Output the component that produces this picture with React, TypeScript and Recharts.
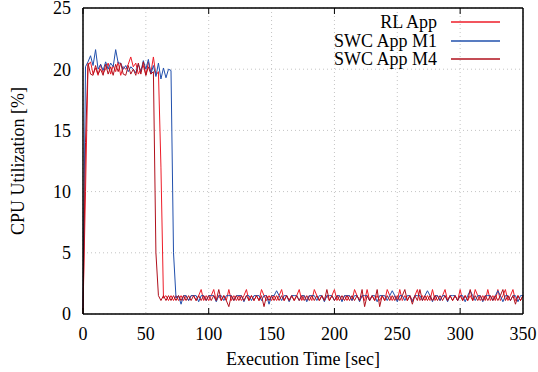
import React from "react";
import { CartesianGrid, Legend, Line, LineChart, XAxis, YAxis } from "recharts";

const FONT = '"Liberation Serif", "Times New Roman", serif';
const SAMPLE_STEP = 2; // seconds between samples

// CPU utilization [%], one sample every 2 s from t = 0 to 350
const rlApp = [
  0.3, 10.0, 20.3, 20.6, 19.6, 20.1, 19.5, 20.4, 19.7, 20.0,
  20.5, 19.6, 20.3, 19.8, 20.6, 19.5, 20.2, 20.0, 20.4, 21.0,
  20.2, 20.5, 19.6, 20.0, 20.3, 19.5, 20.6, 19.7, 21.0, 19.5,
  19.8, 12.0, 1.3, 1.5, 1.1, 1.5, 1.1, 1.5, 1.1, 1.5,
  1.1, 1.5, 1.1, 1.5, 1.5, 1.1, 1.5, 2.0, 1.1, 1.5,
  1.1, 1.5, 2.0, 1.1, 1.5, 1.1, 1.5, 1.1, 2.0, 1.1,
  1.5, 1.1, 1.5, 1.1, 1.5, 2.0, 1.1, 1.5, 1.1, 1.5,
  1.1, 2.0, 1.5, 1.1, 1.5, 1.1, 1.5, 1.1, 1.5, 2.0,
  1.1, 1.5, 1.1, 1.5, 1.1, 1.5, 2.0, 1.1, 1.5, 1.1,
  1.5, 1.1, 2.0, 1.5, 1.1, 1.5, 1.1, 1.5, 1.1, 1.5,
  2.0, 1.1, 1.5, 1.1, 1.5, 1.1, 1.5, 1.1, 2.0, 1.5,
  1.1, 1.5, 1.1, 2.0, 1.1, 1.5, 1.1, 1.5, 1.1, 1.5,
  1.1, 2.0, 1.5, 1.1, 1.5, 1.1, 2.0, 1.1, 1.5, 1.1,
  1.5, 1.1, 1.5, 2.0, 1.1, 1.5, 1.1, 1.5, 1.1, 2.0,
  1.1, 1.5, 1.1, 1.5, 2.0, 1.1, 1.5, 1.1, 1.5, 1.1,
  2.0, 1.1, 1.5, 1.1, 1.5, 1.1, 2.0, 1.5, 1.1, 1.5,
  1.1, 2.0, 1.1, 1.5, 1.1, 2.0, 1.1, 1.5, 2.0, 1.1,
  1.5, 2.0, 1.1, 1.5, 1.1, 1.5,
];

const swcM1 = [
  0.5, 20.2, 20.6, 21.1, 20.3, 21.6, 20.0, 20.4, 19.9, 20.6,
  20.0, 20.5, 20.2, 21.6, 20.5, 20.5, 20.0, 20.3, 19.8, 20.2,
  20.0, 19.7, 20.4, 19.8, 20.7, 20.0, 20.8, 19.6, 20.3, 19.4,
  20.5, 19.2, 20.1, 19.3, 20.0, 19.9, 5.0, 1.3, 1.5, 0.8,
  1.5, 1.5, 1.1, 1.5, 1.5, 1.5, 1.0, 1.5, 1.5, 1.1,
  1.5, 1.5, 1.5, 1.0, 1.5, 1.5, 1.1, 1.5, 1.5, 1.5,
  1.1, 1.5, 1.5, 1.5, 1.0, 1.5, 1.5, 1.1, 1.5, 1.5,
  1.5, 1.1, 1.5, 1.5, 0.8, 1.5, 1.5, 1.9, 1.5, 1.1,
  1.5, 1.5, 1.0, 1.5, 1.5, 1.5, 1.1, 1.5, 1.5, 1.0,
  1.5, 1.5, 1.5, 1.1, 1.5, 1.5, 1.0, 1.5, 1.5, 1.5,
  1.1, 1.5, 1.5, 1.0, 1.5, 1.5, 1.5, 1.1, 1.5, 1.5,
  1.0, 1.5, 1.5, 1.5, 1.1, 1.5, 1.5, 1.0, 1.5, 1.5,
  1.5, 1.1, 1.5, 1.9, 1.5, 1.0, 1.5, 1.5, 1.1, 1.5,
  1.5, 1.0, 1.5, 1.5, 1.5, 1.1, 1.5, 1.9, 1.5, 1.0,
  1.5, 1.5, 1.1, 1.5, 1.5, 1.0, 1.5, 1.5, 1.5, 1.1,
  1.5, 1.5, 1.0, 1.5, 1.9, 1.5, 1.1, 1.5, 1.5, 1.0,
  1.5, 1.5, 1.5, 1.1, 1.5, 1.9, 1.5, 1.0, 1.5, 1.5,
  1.1, 1.5, 1.5, 1.0, 1.5, 1.5,
];

const swcM4 = [
  0.0, 14.0, 20.5, 19.6, 19.5, 20.3, 19.6, 20.0, 19.5, 20.4,
  19.6, 20.2, 19.5, 20.4, 19.8, 20.5, 19.6, 19.5, 20.3, 19.6,
  20.0, 19.5, 20.5, 19.6, 20.6, 19.5, 20.2, 19.6, 19.8, 5.0,
  1.5, 1.1, 1.5, 1.1, 1.5, 1.1, 1.5, 1.1, 1.5, 1.1,
  1.5, 1.1, 1.5, 1.1, 1.5, 1.1, 1.5, 1.1, 1.5, 1.1,
  1.5, 1.1, 1.5, 1.1, 2.0, 1.1, 1.5, 1.1, 0.6, 1.5,
  1.1, 1.5, 1.1, 1.5, 1.1, 1.5, 1.1, 1.5, 1.1, 1.5,
  1.1, 1.5, 0.6, 1.5, 1.1, 1.5, 1.1, 1.5, 1.1, 1.5,
  1.1, 1.5, 1.1, 1.5, 1.1, 1.5, 1.1, 1.5, 1.1, 1.5,
  1.1, 1.5, 1.1, 1.5, 1.1, 1.5, 1.1, 2.0, 1.1, 1.5,
  1.1, 1.5, 1.1, 1.5, 1.1, 1.5, 1.1, 1.5, 1.1, 1.5,
  1.1, 2.0, 0.6, 1.5, 1.1, 1.5, 1.1, 2.0, 0.6, 1.5,
  1.1, 1.5, 1.1, 1.5, 1.1, 1.5, 1.1, 1.5, 2.0, 1.1,
  1.5, 0.8, 1.5, 1.1, 2.0, 1.1, 1.5, 1.1, 1.5, 1.1,
  1.5, 1.1, 1.5, 1.1, 1.5, 1.1, 1.5, 1.1, 1.5, 1.1,
  1.5, 1.1, 1.5, 1.1, 2.0, 1.1, 1.5, 1.1, 1.5, 1.1,
  1.5, 1.1, 1.5, 1.1, 1.5, 1.1, 1.5, 2.0, 1.1, 1.5,
  1.1, 1.5, 0.8, 1.5, 1.1, 1.5,
];

const xTicks = [0, 50, 100, 150, 200, 250, 300, 350];
const yTicks = [0, 5, 10, 15, 20, 25];

const series = [
  { key: "rl", name: "RL App", color: "#ee1c28" },
  { key: "m1", name: "SWC App M1", color: "#2150ad" },
  { key: "m4", name: "SWC App M4", color: "#b0101c" },
];

const data = rlApp.map((v, i) => ({
  t: i * SAMPLE_STEP,
  rl: v,
  m1: swcM1[i],
  m4: swcM4[i],
}));

const noLabel = () => "";

const LegendBox = () => (
  <div style={{ fontFamily: FONT, fontSize: 18, color: "#000" }}>
    {series.map((s) => (
      <div
        key={s.key}
        style={{
          display: "flex",
          justifyContent: "flex-end",
          alignItems: "center",
          height: 18.5,
          lineHeight: "18.5px",
        }}
      >
        <span>{s.name}</span>
        <svg width={49} height={4} style={{ marginLeft: 14, display: "block" }}>
          <line x1={0} y1={2} x2={49} y2={2} stroke={s.color} strokeWidth={1.5} />
        </svg>
      </div>
    ))}
  </div>
);

export default function App() {
  const tickStyle = { fill: "#000", fontSize: 18, fontFamily: FONT };
  return (
    <div style={{ position: "absolute", left: 0, top: 0, fontFamily: FONT }}>
      <LineChart
        width={538}
        height={372}
        data={data}
        margin={{ top: 8, right: 15, bottom: 0, left: 23 }}
      >
        <CartesianGrid stroke="#c4c4c4" strokeDasharray="1 3" />
        <XAxis
          dataKey="t"
          type="number"
          domain={[0, 350]}
          ticks={xTicks}
          interval={0}
          height={58}
          tickLine={false}
          tickSize={0}
          tickMargin={13}
          axisLine={{ stroke: "#000", strokeWidth: 1.5 }}
          tick={tickStyle}
          label={{
            value: "Execution Time [sec]",
            position: "insideBottom",
            offset: 7,
            fill: "#000",
            fontSize: 18,
          }}
        />
        <XAxis
          xAxisId="bottomTicks"
          type="number"
          domain={[0, 350]}
          ticks={xTicks}
          interval={0}
          orientation="bottom"
          mirror
          axisLine={false}
          tickSize={6}
          tickLine={{ stroke: "#000" }}
          tickFormatter={noLabel}
        />
        <XAxis
          xAxisId="topTicks"
          type="number"
          domain={[0, 350]}
          ticks={xTicks}
          interval={0}
          orientation="top"
          mirror
          axisLine={{ stroke: "#000", strokeWidth: 1.5 }}
          tickSize={6}
          tickLine={{ stroke: "#000" }}
          tickFormatter={noLabel}
        />
        <YAxis
          type="number"
          domain={[0, 25]}
          ticks={yTicks}
          interval={0}
          width={60}
          tickLine={false}
          tickSize={0}
          tickMargin={12}
          axisLine={{ stroke: "#000", strokeWidth: 1.5 }}
          tick={tickStyle}
          label={{
            value: "CPU Utilization [%]",
            angle: -90,
            position: "insideLeft",
            offset: -5,
            fill: "#000",
            fontSize: 18,
            style: { textAnchor: "middle" },
          }}
        />
        <YAxis
          yAxisId="leftTicks"
          type="number"
          domain={[0, 25]}
          ticks={yTicks}
          interval={0}
          orientation="left"
          mirror
          axisLine={false}
          tickSize={6}
          tickLine={{ stroke: "#000" }}
          tickFormatter={noLabel}
        />
        <YAxis
          yAxisId="rightTicks"
          type="number"
          domain={[0, 25]}
          ticks={yTicks}
          interval={0}
          orientation="right"
          mirror
          axisLine={{ stroke: "#000", strokeWidth: 1.5 }}
          tickSize={6}
          tickLine={{ stroke: "#000" }}
          tickFormatter={noLabel}
        />
        <Legend
          layout="vertical"
          align="center"
          verticalAlign="middle"
          content={LegendBox}
          wrapperStyle={{ top: 13, left: 280, width: 220 }}
        />
        {series.map((s) => (
          <Line
            key={s.key}
            type="linear"
            dataKey={s.key}
            name={s.name}
            stroke={s.color}
            strokeWidth={1}
            dot={false}
            activeDot={false}
            isAnimationActive={false}
          />
        ))}
      </LineChart>
    </div>
  );
}
